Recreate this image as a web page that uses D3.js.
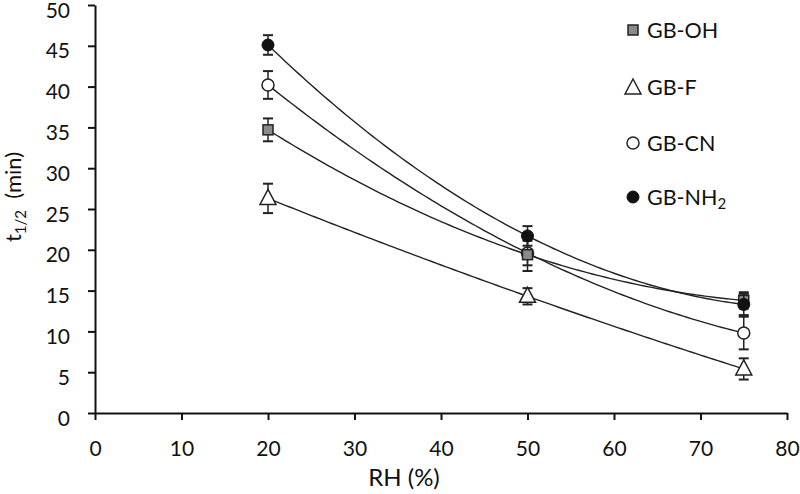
<!DOCTYPE html>
<html><head><meta charset="utf-8">
<script src="https://cdn.jsdelivr.net/npm/d3@7"></script>
<style>body{margin:0;background:#fff}svg{display:block}text{font-family:Lato,"Open Sans",sans-serif;fill:#111}</style>
</head><body><svg id="c" width="800" height="494"></svg>
<script>
const rh = [20, 50, 75];
const ohVals = [34.7, 19.4, 13.8], ohErr = [1.4, 2.0, 1.0];
const fVals  = [26.3, 14.3, 5.4],  fErr  = [1.8, 1.0, 1.3];
const cnVals = [40.2, 19.6, 9.8],  cnErr = [1.7, 1.5, 2.0];
const nhVals = [45.1, 21.7, 13.3], nhErr = [1.2, 1.2, 1.3];
const xTicks = [0,10,20,30,40,50,60,70,80];
const yTicks = [0,5,10,15,20,25,30,35,40,45,50];

const series = [
  {name:"GB-OH", sub:"", vals:ohVals, err:ohErr, sym:"square"},
  {name:"GB-F", sub:"", vals:fVals, err:fErr, sym:"triangle"},
  {name:"GB-CN", sub:"", vals:cnVals, err:cnErr, sym:"open"},
  {name:"GB-NH", sub:"2", vals:nhVals, err:nhErr, sym:"filled"}
];
const drawOrder = [2, 1, 0, 3];

const svg = d3.select("#c");
const x = d3.scaleLinear().domain([0,80]).range([95,787]);
const y = d3.scaleLinear().domain([0,50]).range([413,5]);

// axes
const xa = svg.append("g").attr("transform","translate(0,413)")
  .call(d3.axisBottom(x).tickValues(xTicks).tickSize(7).tickSizeOuter(0).tickPadding(21));
const ya = svg.append("g").attr("transform","translate(95,0)")
  .call(d3.axisLeft(y).tickValues(yTicks).tickSize(7).tickSizeOuter(0).tickPadding(18));
[xa,ya].forEach(a=>{
  a.select(".domain").attr("stroke","#111").attr("stroke-width",2);
  a.selectAll(".tick line").attr("stroke","#111").attr("stroke-width",2);
  a.selectAll(".tick text").style("font-size","21px").attr("fill","#111");
});
ya.selectAll(".tick text").attr("dy","0.58em");

// trendlines: quadratic through the three points (Excel order-2 trendline)
function quad(xs, ys){
  return t => {
    let s=0;
    for(let i=0;i<3;i++){
      let l=1;
      for(let j=0;j<3;j++) if(j!==i) l*=(t-xs[j])/(xs[i]-xs[j]);
      s+=ys[i]*l;
    }
    return s;
  };
}
const line = d3.line().x(d=>x(d[0])).y(d=>y(d[1]));
series.forEach(s=>{
  const f = quad(rh, s.vals);
  const pts = d3.range(rh[0], rh[2]+0.01, 0.5).map(t=>[t,f(t)]);
  svg.append("path").attr("d",line(pts)).attr("fill","none")
    .attr("stroke","#222").attr("stroke-width",1.4);
});

function drawSym(g, sym, cx, cy){
  if(sym==="square"){
    g.append("rect").attr("x",cx-5).attr("y",cy-5).attr("width",10).attr("height",10)
      .attr("fill","#8a8a8a").attr("stroke","#222").attr("stroke-width",1.5);
  } else if(sym==="triangle"){
    g.append("path").attr("d",`M${cx},${cy-9}L${cx+8},${cy+6}L${cx-8},${cy+6}Z`)
      .attr("fill","#fff").attr("stroke","#222").attr("stroke-width",1.5);
  } else if(sym==="open"){
    g.append("circle").attr("cx",cx).attr("cy",cy).attr("r",6)
      .attr("fill","#fff").attr("stroke","#222").attr("stroke-width",1.5);
  } else {
    g.append("circle").attr("cx",cx).attr("cy",cy).attr("r",6)
      .attr("fill","#111").attr("stroke","#111").attr("stroke-width",1);
  }
}

// error bars and markers
drawOrder.forEach(k=>{
  const s = series[k];
  const g = svg.append("g");
  rh.forEach((r,i)=>{
    const cx = x(r), top = y(s.vals[i]+s.err[i]), bot = y(s.vals[i]-s.err[i]);
    g.append("line").attr("x1",cx).attr("x2",cx).attr("y1",top).attr("y2",bot).attr("stroke","#222").attr("stroke-width",1.5);
    [top,bot].forEach(yy=>g.append("line").attr("x1",cx-5).attr("x2",cx+5).attr("y1",yy).attr("y2",yy).attr("stroke","#222").attr("stroke-width",2));
    drawSym(g, s.sym, cx, y(s.vals[i]));
  });
});

// legend
const legY = [30, 87, 143, 197];
series.forEach((s,i)=>{
  const g = svg.append("g");
  drawSym(g, s.sym, 633, legY[i] + (s.sym==="triangle"?1:0));
  const t = g.append("text").attr("x",647).attr("y",legY[i]+8).style("font-size","21.5px").text(s.name);
  if(s.sub) t.append("tspan").attr("dy",4).style("font-size","15px").text(s.sub);
});

// axis titles
svg.append("text").attr("x",404).attr("y",486).attr("text-anchor","middle").style("font-size","24px").text("RH (%)");
const yl = svg.append("text").attr("transform","translate(21,197) rotate(-90)").attr("text-anchor","middle").style("font-size","22px");
yl.append("tspan").text("t");
yl.append("tspan").attr("dy",5).style("font-size","15px").text("1/2");
yl.append("tspan").attr("dy",-5).text("\u00a0 (min)");
</script></body></html>
